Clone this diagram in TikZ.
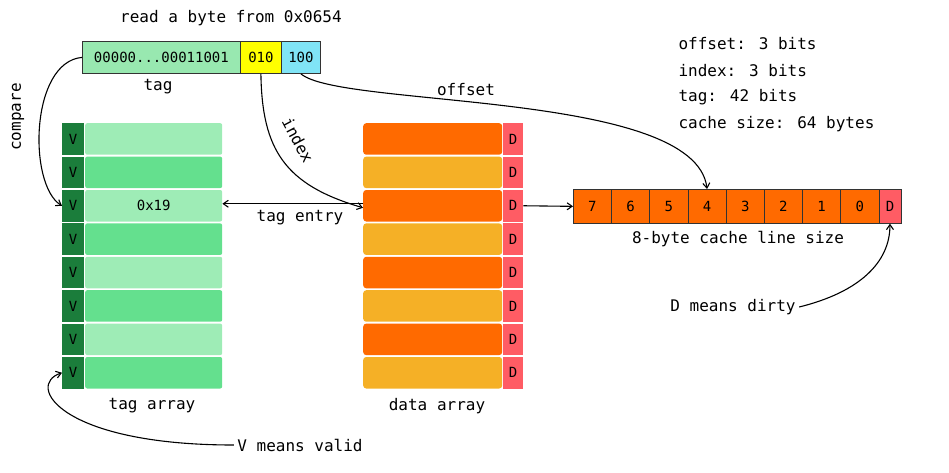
\documentclass[tikz,border=0pt]{standalone}
\usepackage{fontspec}
\setmainfont{DejaVu Sans Mono}
\usetikzlibrary{arrows.meta}
\definecolor{tagg}{HTML}{98E8B0}
\definecolor{yel}{HTML}{FFFF00}
\definecolor{cyn}{HTML}{80E4F6}
\definecolor{vdark}{HTML}{1B7D3B}
\definecolor{lg}{HTML}{9EECB6}
\definecolor{mg}{HTML}{64E08E}
\definecolor{org}{HTML}{FF6A00}
\definecolor{yorg}{HTML}{F5B026}
\definecolor{dred}{HTML}{FF5C64}
\begin{document}
\begin{tikzpicture}[x=1pt,y=-1pt,
  font=\fontsize{14}{16}\selectfont,
  lab/.style={font=\fontsize{16}{18}\selectfont},
  arr/.style={-{Straight Barb[length=5pt,width=7pt]},line width=1.1pt},
  box/.style={draw=black!80,line width=0.8pt,inner sep=0pt,minimum height=32pt,anchor=north west},
  vcell/.style={fill=vdark,inner sep=0pt,minimum width=22pt,minimum height=31.5pt,anchor=north west},
  trow/.style={inner sep=0pt,minimum width=137pt,minimum height=31.5pt,anchor=north west,rounded corners=2pt},
  drow/.style={inner sep=0pt,minimum width=139pt,minimum height=31.5pt,anchor=north west,rounded corners=3pt},
  dcell/.style={fill=dred,inner sep=0pt,minimum width=20pt,minimum height=31.5pt,anchor=north west},
  ccell/.style={draw=black!80,line width=0.7pt,fill=org,inner sep=0pt,minimum width=38.2pt,minimum height=34pt,anchor=north west}
]
\useasboundingbox (0,0) rectangle (949,472);

% title
\node[lab] (title) at (231,18) {read a byte from 0x0654};

% address boxes
\node[box,fill=tagg,minimum width=158pt] (tagbox) at (82,41) {00000...00011001};
\node[box,fill=yel,minimum width=41pt] (b010) at (240,41) {010};
\node[box,fill=cyn,minimum width=39pt] (b100) at (281,41) {100};
\node[lab] (taglab) at (158,87) {tag};

% info text
\node[lab,anchor=west] (i1) at (675,44) {offset: 3 bits};
\node[lab,anchor=west] (i2) at (675,71) {index: 3 bits};
\node[lab,anchor=west] (i3) at (675,97) {tag: 42 bits};
\node[lab,anchor=west] (i4) at (675,124) {cache size: 64 bytes};

% tag array and data array
\foreach \i/\tc/\dc in {1/lg/org,2/mg/yorg,3/lg/org,4/mg/yorg,5/lg/org,6/mg/yorg,7/lg/org,8/mg/yorg}{
  \pgfmathsetmacro\yy{123+(\i-1)*33.4}
  \node[vcell] (v\i) at (62,\yy) {V};
  \node[trow,fill=\tc] (t\i) at (85,\yy) {};
  \node[drow,fill=\dc] (d\i) at (363,\yy) {};
  \node[dcell] (dd\i) at (503,\yy) {D};
}
\node at (t3.center) {0x19};
\node[lab] (tarr) at (152,406) {tag array};
\node[lab] (darr) at (437,406) {data array};

% cache line
\foreach \k/\lbl in {0/7,1/6,2/5,3/4,4/3,5/2,6/1,7/0}{
  \node[ccell] (c\lbl) at ({573+\k*38.2},189) {\lbl};
}
\node[ccell,fill=dred,minimum width=22pt] (cd) at (878.6,189) {D};
\node[lab] (clab) at (738,239) {8-byte cache line size};

% notes
\node[lab] (dirty) at (733,307) {D means dirty};
\node[lab] (valid) at (300,445) {V means valid};

% connectors
\draw[arr] (tagbox.west) .. controls (30,62) and (28,185) .. (v3.west);
\node[lab,rotate=90] (cmp) at (18,117) {compare};

\draw[arr] (b010.south) .. controls (262,150) and (285,185) .. ([yshift=-2pt]d3.west);
\node[lab,rotate=-62] (idx) at (298,140) {index};

\draw[arr] (b100.south) .. controls (340,108) and (695,90) .. (c4.north);
\node[lab] (off) at (466,90) {offset};

\draw[arr] ([yshift=2pt]d3.west) -- ([yshift=2pt]t3.east);
\node[lab] (tent) at (300,218) {tag entry};

\draw[arr] (dd3.east) -- (c7.west);

\draw[arr] (dirty.east) .. controls (860,292) and (890,262) .. (cd.south);
\draw[arr] (valid.west) .. controls (60,445) and (25,385) .. (v8.west);
\end{tikzpicture}
\end{document}
